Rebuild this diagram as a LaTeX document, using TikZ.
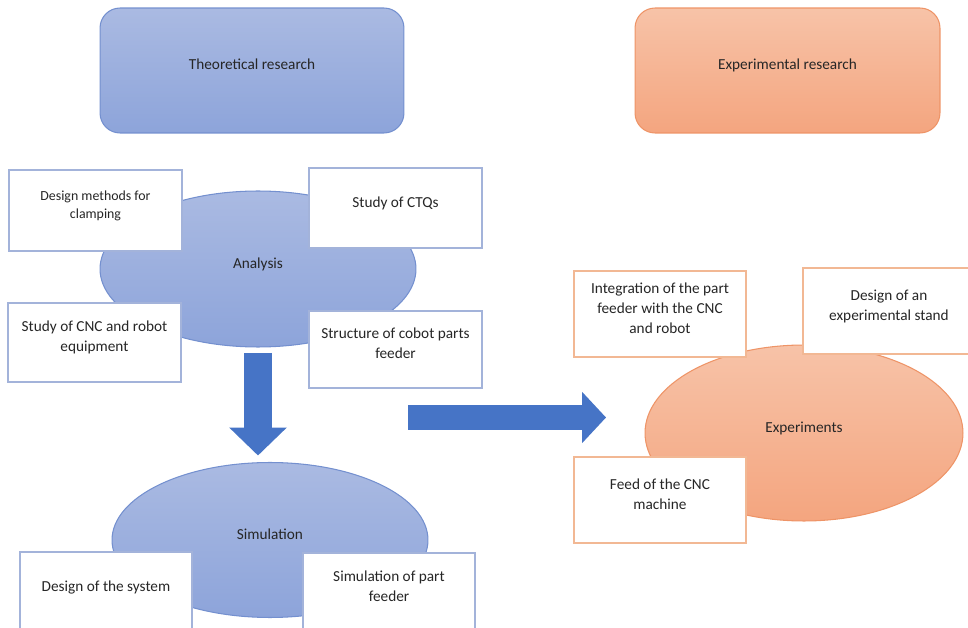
\documentclass[tikz,border=0pt]{standalone}
\usepackage{fontspec}
\setmainfont{Carlito}
\usepackage{xcolor}
\usepackage{tikz}
\usetikzlibrary{shapes.geometric,arrows.meta,calc}

\definecolor{blueTop}{HTML}{AABAE2}
\definecolor{blueBot}{HTML}{8DA4DA}
\definecolor{blueEdge}{HTML}{7490CF}
\definecolor{blueBox}{HTML}{A3B3DA}
\definecolor{orTop}{HTML}{F7C3A8}
\definecolor{orBot}{HTML}{F4A57F}
\definecolor{orEdge}{HTML}{EE9467}
\definecolor{orBox}{HTML}{F2B894}
\definecolor{arrowBlue}{HTML}{4674C6}

\begin{document}
\begin{tikzpicture}[x=0.02cm,y=-0.02cm,inner sep=0,outer sep=0,
    every node/.style={font=\fontsize{8.7}{11.3}\selectfont,text=black!85,align=center,text depth=7pt},
    bluefill/.style={top color=blueTop,bottom color=blueBot,draw=blueEdge,line width=0.6pt},
    orangefill/.style={top color=orTop,bottom color=orBot,draw=orEdge,line width=0.6pt},
    bluebox/.style={draw=blueBox,fill=white,line width=0.7pt,minimum width=3.46cm},
    orangebox/.style={draw=orBox,fill=white,line width=0.7pt,minimum width=3.44cm},
    blockarrow/.style={arrowBlue,line cap=butt}]

    \useasboundingbox (0,0) rectangle (968,628);
    \clip (0,0) rectangle (968,628);

    % Headers
    \node[bluefill,rounded corners=0.4cm,minimum width=6.08cm,minimum height=2.5cm] (theory) at (252,70.5) {Theoretical research};
    \node[orangefill,rounded corners=0.4cm,minimum width=6.1cm,minimum height=2.5cm] (exper) at (787.5,70.5) {Experimental research};

    % Ellipses
    \node[bluefill,ellipse,minimum width=6.32cm,minimum height=3.12cm] (ana) at (258,269) {Analysis};
    \node[bluefill,ellipse,minimum width=6.32cm,minimum height=3.1cm] (sim) at (270,540) {Simulation};
    \node[orangefill,ellipse,minimum width=6.36cm,minimum height=3.52cm] (exp) at (804,433) {Experiments};

    % Boxes round the analysis
    \node[bluebox,minimum height=1.62cm,font=\fontsize{7.9}{10.2}\selectfont] (clamp) at (95.5,210.5) {Design methods for\\clamping};
    \node[bluebox,minimum height=1.6cm] (ctq) at (395.5,208) {Study of CTQs};
    \node[bluebox,minimum height=1.58cm] (cnc) at (94.5,342.5) {Study of CNC and robot\\equipment};
    \node[bluebox,minimum height=1.54cm] (feeder) at (395.5,349.5) {Structure of cobot parts\\feeder};

    % Boxes round the simulation
    \node[bluebox,minimum width=3.44cm,minimum height=1.6cm] (system) at (106,592) {Design of the system};
    \node[bluebox,minimum width=3.44cm,minimum height=1.58cm] (simfeed) at (389,592.5) {Simulation of part\\feeder};

    % Boxes round the experiments
    \node[orangebox,minimum height=1.72cm] (integ) at (660,314) {Integration of the part\\feeder with the CNC\\and robot};
    \node[orangebox,minimum height=1.72cm] (stand) at (889,311) {Design of an\\experimental stand};
    \node[orangebox,minimum height=1.72cm] (feed) at (660,500) {Feed of the CNC\\machine};

    % Arrows
    \draw[blockarrow,line width=0.56cm,-{Triangle[width=1.12cm,length=0.56cm]},shorten <=0.12cm,shorten >=0.14cm] (ana.south) -- (ana.south |- sim.north);
    \coordinate (rarr) at (408,417.5);
    \draw[blockarrow,line width=0.5cm,-{Triangle[width=1.0cm,length=0.48cm]},shorten >=0.78cm] (rarr) -- (rarr -| exp.west);

\end{tikzpicture}
\end{document}
